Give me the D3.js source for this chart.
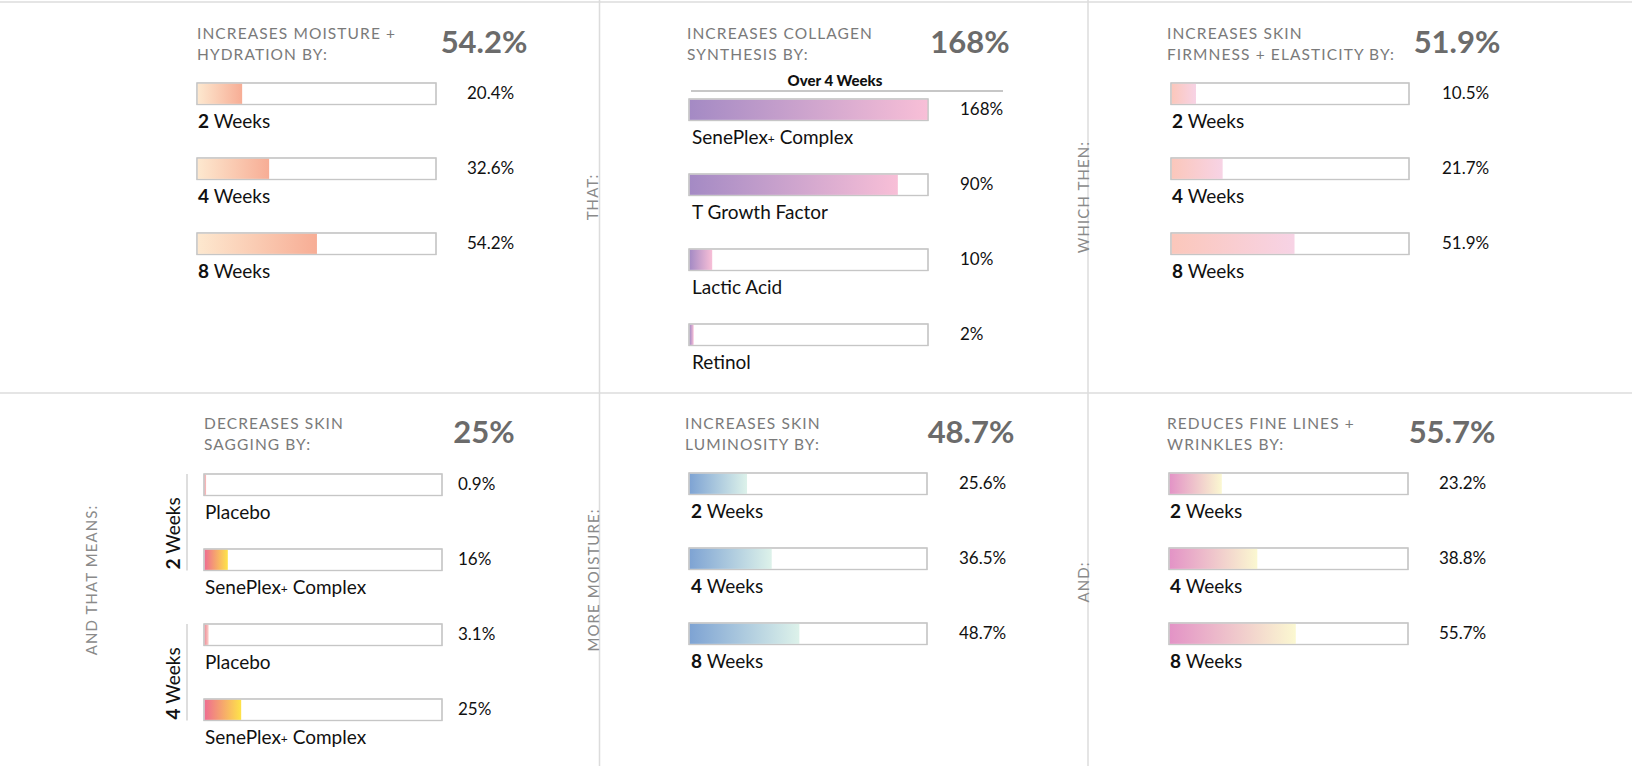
<!DOCTYPE html>
<html lang="en">
<head>
<meta charset="UTF-8"/>
<title>SenePlex+ results</title>
<script src="https://d3js.org/d3.v7.min.js"></script>
<style>
    body { margin: 0; background: #fff; }
    svg { display: block; font-family: Lato, "Open Sans", sans-serif; }
    .rule { stroke: #dcdcdc; stroke-width: 1.5; }
    .title { fill: #7a7a7a; font-size: 15.5px; letter-spacing: 1.1px; }
    .big { fill: #6b6b6b; font-size: 31px; font-weight: 700; }
    .connector { fill: #8a8a8a; font-size: 15px; letter-spacing: 1.1px; }
    .track { fill: #fff; stroke: #c6c6c6; stroke-width: 1.2; }
    .value { fill: #111; font-size: 17px; }
    .label { fill: #111; font-size: 19px; }
</style>
</head>
<body>
<div id="chart"></div>
<script>
    // ---- data ----
    var weekNums = ["2", "4", "8"];
    var moistureValues = [20.4, 32.6, 54.2];
    var collagenLabels = ["SenePlex+ Complex", "T Growth Factor", "Lactic Acid", "Retinol"];
    var collagenValues = [168, 90, 10, 2];
    var firmnessValues = [10.5, 21.7, 51.9];
    var saggingGroups = ["2", "4"];
    var saggingLabels = ["Placebo", "SenePlex+ Complex", "Placebo", "SenePlex+ Complex"];
    var saggingValues = [0.9, 16, 3.1, 25];
    var luminosityValues = [25.6, 36.5, 48.7];
    var wrinklesValues = [23.2, 38.8, 55.7];
    var titles = [
        ["INCREASES MOISTURE +", "HYDRATION BY:"],
        ["INCREASES COLLAGEN", "SYNTHESIS BY:"],
        ["INCREASES SKIN", "FIRMNESS + ELASTICITY BY:"],
        ["DECREASES SKIN", "SAGGING BY:"],
        ["INCREASES SKIN", "LUMINOSITY BY:"],
        ["REDUCES FINE LINES +", "WRINKLES BY:"]
    ];
    var headlines = ["54.2%", "168%", "51.9%", "25%", "48.7%", "55.7%"];
    var connectors = ["THAT:", "WHICH THEN:", "AND THAT MEANS:", "MORE MOISTURE:", "AND:"];

    var w = 1632, h = 766;
    var svg = d3.select("#chart").append("svg")
        .attr("width", w).attr("height", h);

    // gradients
    var grads = {
        moisture: ["#fde8cf", "#f7ad95"],
        collagen: ["#a48ac4", "#f8bfd7"],
        firmness: ["#fbc7bb", "#f7d3e5"],
        placebo: ["#ef8f9a", "#fbcfca"],
        complex: ["#ee6d90", "#fee349"],
        luminosity: ["#7ea3d3", "#ddf2ea"],
        wrinkles: ["#e393c6", "#fbf8d1"]
    };
    var defs = svg.append("defs");
    Object.keys(grads).forEach(function(k){
        var g = defs.append("linearGradient").attr("id", "g-" + k);
        g.append("stop").attr("offset", "0%").attr("stop-color", grads[k][0]);
        g.append("stop").attr("offset", "100%").attr("stop-color", grads[k][1]);
    });

    // grid rules
    svg.append("line").attr("class", "rule").attr("x1", 0).attr("x2", w).attr("y1", 2).attr("y2", 2);
    svg.append("line").attr("class", "rule").attr("x1", 0).attr("x2", w).attr("y1", 393).attr("y2", 393);
    [599.5, 1088].forEach(function(x){
        svg.append("line").attr("class", "rule").attr("x1", x).attr("x2", x).attr("y1", 0).attr("y2", h);
    });

    // connector words (rotated)
    var connPos = [[592, 197], [1083, 197], [91, 580], [593, 580], [1083, 582]];
    connectors.forEach(function(t, i){
        svg.append("text").attr("class", "connector")
            .attr("transform", "translate(" + connPos[i][0] + "," + connPos[i][1] + ") rotate(-90)")
            .attr("text-anchor", "middle")
            .attr("dominant-baseline", "central")
            .text(t);
    });

    function writeLabel(sel, txt, boldFirst) {
        if (boldFirst) {
            sel.append("tspan").attr("font-weight", 700).text(txt);
            sel.append("tspan").text(" Weeks");
            return;
        }
        var parts = txt.split("+");
        sel.append("tspan").text(parts[0]);
        if (parts.length > 1) {
            sel.append("tspan").attr("font-size", "12px").attr("dy", -1).text("+");
            sel.append("tspan").attr("dy", 1).text(parts[1]);
        }
    }

    function panel(cfg) {
        var g = svg.append("g");
        g.append("text").attr("class", "title")
            .attr("x", cfg.titleX).attr("y", cfg.titleY).text(titles[cfg.idx][0]);
        g.append("text").attr("class", "title")
            .attr("x", cfg.titleX).attr("y", cfg.titleY + 21).text(titles[cfg.idx][1]);
        g.append("text").attr("class", "big")
            .attr("x", cfg.bigCx).attr("y", cfg.titleY + 13.5)
            .attr("text-anchor", "middle").text(headlines[cfg.idx]);

        var xScale = d3.scaleLinear().domain([0, cfg.max]).range([cfg.x0, cfg.x1]).clamp(true);
        var yScale = d3.scaleLinear().domain([0, 1]).range([cfg.top, cfg.top + 75]);
        var barH = 21.5;

        var rows = g.selectAll("g.row").data(cfg.values).enter().append("g").attr("class", "row");
        rows.append("rect").attr("class", "track")
            .attr("x", xScale(0)).attr("y", (d, i) => yScale(i))
            .attr("width", xScale.range()[1] - xScale(0)).attr("height", barH);
        rows.append("rect")
            .attr("x", xScale(0) + 0.6).attr("y", (d, i) => yScale(i) + 0.6)
            .attr("width", d => Math.max(1.5, xScale(d) - xScale(0) - 0.6))
            .attr("height", barH - 1.2)
            .attr("fill", (d, i) => "url(#g-" + (cfg.grad ? cfg.grad(i) : cfg.key) + ")");
        rows.append("rect").attr("class", "track").style("fill", "none")
            .attr("x", xScale(0)).attr("y", (d, i) => yScale(i))
            .attr("width", xScale.range()[1] - xScale(0)).attr("height", barH);
        rows.append("text").attr("class", "value")
            .attr("x", cfg.valX).attr("y", (d, i) => yScale(i) + 16)
            .text(d => d + "%");
        rows.append("text").attr("class", "label")
            .attr("x", cfg.labelX).attr("y", (d, i) => yScale(i) + 45)
            .each(function(d, i){ writeLabel(d3.select(this), cfg.labels[i], cfg.boldFirst); });
        return {g: g, y: yScale, barH: barH};
    }

    panel({idx: 0, key: "moisture", values: moistureValues, labels: weekNums, boldFirst: true, max: 108,
        x0: 197, x1: 436, top: 83, titleX: 197, titleY: 39, bigCx: 484, valX: 467, labelX: 198});
    var p2 = panel({idx: 1, key: "collagen", values: collagenValues, labels: collagenLabels, max: 103,
        x0: 689, x1: 928, top: 99, titleX: 687, titleY: 39, bigCx: 970, valX: 960, labelX: 692});
    p2.g.append("text").attr("x", 835).attr("y", 86).attr("text-anchor", "middle")
        .attr("font-size", "15px").attr("font-weight", 900).attr("fill", "#111").text("Over 4 Weeks");
    p2.g.append("line").attr("x1", 691).attr("x2", 1003).attr("y1", 91).attr("y2", 91)
        .attr("stroke", "#b5b5b5").attr("stroke-width", 1.5);
    panel({idx: 2, key: "firmness", values: firmnessValues, labels: weekNums, boldFirst: true, max: 100,
        x0: 1171, x1: 1409, top: 83, titleX: 1167, titleY: 39, bigCx: 1457, valX: 1442, labelX: 1172});
    var p4 = panel({idx: 3, values: saggingValues, labels: saggingLabels, max: 160,
        grad: i => (i % 2 === 0 ? "placebo" : "complex"),
        x0: 204, x1: 442, top: 474, titleX: 204, titleY: 429, bigCx: 484, valX: 458, labelX: 205});
    saggingGroups.forEach(function(wk, gi){
        var yTop = p4.y(gi * 2), yBot = p4.y(gi * 2 + 1) + p4.barH;
        p4.g.append("line").attr("x1", 187).attr("x2", 187).attr("y1", yTop).attr("y2", yBot)
            .attr("stroke", "#c8c8c8").attr("stroke-width", 1.2);
        var t = p4.g.append("text").attr("class", "label").attr("font-size", "20px")
            .attr("transform", "translate(180," + (yBot - 1) + ") rotate(-90)");
        writeLabel(t, wk, true);
    });
    panel({idx: 4, key: "luminosity", values: luminosityValues, labels: weekNums, boldFirst: true, max: 105,
        x0: 689, x1: 927, top: 473, titleX: 685, titleY: 429, bigCx: 971, valX: 959, labelX: 691});
    panel({idx: 5, key: "wrinkles", values: wrinklesValues, labels: weekNums, boldFirst: true, max: 105,
        x0: 1169, x1: 1408, top: 473, titleX: 1167, titleY: 429, bigCx: 1452, valX: 1439, labelX: 1170});
</script>
</body>
</html>
